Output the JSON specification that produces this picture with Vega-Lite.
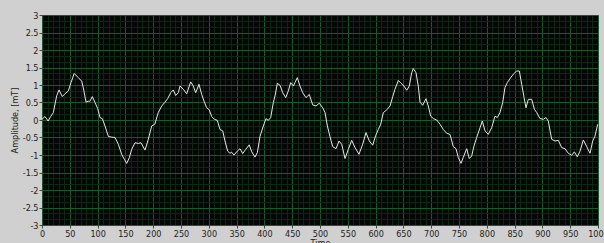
{
  "$schema": "https://vega.github.io/schema/vega-lite/v6.json",
  "width": 556,
  "height": 210,
  "autosize": {"type": "none"},
  "padding": {"left": 42, "top": 15, "right": 6, "bottom": 18},
  "background": "#d0d0d0",
  "config": {
    "view": {"fill": "#040705", "stroke": "#808080", "strokeWidth": 1},
    "font": "Liberation Sans Narrow, DejaVu Sans Condensed, Arial Narrow, sans-serif"
  },
  "data": {
    "values": [
      {"t": 0, "a": 0.02}, {"t": 5.4, "a": 0.1}, {"t": 11, "a": -0.03}, {"t": 15.6, "a": 0.1},
      {"t": 20.4, "a": 0.21}, {"t": 26.4, "a": 0.69}, {"t": 30.6, "a": 0.86}, {"t": 36.5, "a": 0.67},
      {"t": 41.4, "a": 0.75}, {"t": 47.3, "a": 0.83}, {"t": 52.2, "a": 1.07}, {"t": 58, "a": 1.33},
      {"t": 65.3, "a": 1.21}, {"t": 71.4, "a": 1.11}, {"t": 74.3, "a": 0.92}, {"t": 79.1, "a": 0.51},
      {"t": 83.3, "a": 0.54}, {"t": 86, "a": 0.53}, {"t": 90.5, "a": 0.67}, {"t": 95.3, "a": 0.5},
      {"t": 100.1, "a": 0.33}, {"t": 104.3, "a": 0.07}, {"t": 108.5, "a": 0.04}, {"t": 113.3, "a": -0.17},
      {"t": 119.3, "a": -0.47}, {"t": 125.4, "a": -0.49}, {"t": 131.3, "a": -0.5}, {"t": 137.2, "a": -0.69},
      {"t": 143.3, "a": -0.98}, {"t": 148, "a": -1.12}, {"t": 152.3, "a": -1.24}, {"t": 157, "a": -1.08},
      {"t": 161.3, "a": -0.84}, {"t": 167.3, "a": -0.65}, {"t": 173.3, "a": -0.67}, {"t": 178, "a": -0.65},
      {"t": 185.3, "a": -0.86}, {"t": 191.2, "a": -0.55}, {"t": 197.3, "a": -0.17}, {"t": 203, "a": -0.12},
      {"t": 209, "a": 0.21}, {"t": 215.3, "a": 0.4}, {"t": 221.2, "a": 0.51}, {"t": 226, "a": 0.61},
      {"t": 231.5, "a": 0.78}, {"t": 236.2, "a": 0.86}, {"t": 240.4, "a": 0.7}, {"t": 245.2, "a": 0.78},
      {"t": 248.2, "a": 0.97}, {"t": 254.1, "a": 0.88}, {"t": 260.2, "a": 0.75}, {"t": 267.4, "a": 1.09},
      {"t": 272.1, "a": 0.97}, {"t": 276.4, "a": 0.78}, {"t": 282.4, "a": 1.02}, {"t": 287.2, "a": 0.73},
      {"t": 291.4, "a": 0.54}, {"t": 296.2, "a": 0.35}, {"t": 300.9, "a": 0.29}, {"t": 305.2, "a": 0.1},
      {"t": 309.9, "a": 0.02}, {"t": 315.3, "a": -0.01}, {"t": 320.1, "a": -0.27}, {"t": 325, "a": -0.31},
      {"t": 329.1, "a": -0.6}, {"t": 334, "a": -0.89}, {"t": 338.1, "a": -0.95}, {"t": 341, "a": -0.92},
      {"t": 345.3, "a": -1.0}, {"t": 351.3, "a": -0.89}, {"t": 356.1, "a": -0.82}, {"t": 361, "a": -0.96},
      {"t": 366.4, "a": -0.84}, {"t": 372.8, "a": -0.71}, {"t": 377.2, "a": -0.91}, {"t": 383.1, "a": -1.06},
      {"t": 387.3, "a": -0.93}, {"t": 392.1, "a": -0.47}, {"t": 398.1, "a": -0.17}, {"t": 402.9, "a": 0.04},
      {"t": 407, "a": -0.01}, {"t": 411.3, "a": 0.07}, {"t": 416.1, "a": 0.5}, {"t": 419.1, "a": 0.69},
      {"t": 423.3, "a": 1.05}, {"t": 428.1, "a": 0.99}, {"t": 433, "a": 0.78}, {"t": 438.3, "a": 0.64},
      {"t": 443, "a": 0.83}, {"t": 447.3, "a": 1.07}, {"t": 452.1, "a": 0.97}, {"t": 455, "a": 1.07},
      {"t": 459.2, "a": 1.21}, {"t": 464, "a": 0.97}, {"t": 468.9, "a": 0.78}, {"t": 474.8, "a": 0.64},
      {"t": 480.8, "a": 0.73}, {"t": 486.9, "a": 0.43}, {"t": 492.8, "a": 0.4}, {"t": 498.8, "a": 0.48},
      {"t": 504.9, "a": 0.35}, {"t": 509, "a": 0.21}, {"t": 513.3, "a": -0.17}, {"t": 518, "a": -0.48},
      {"t": 522.8, "a": -0.76}, {"t": 528.8, "a": -0.82}, {"t": 534.2, "a": -0.6}, {"t": 539, "a": -0.69},
      {"t": 545, "a": -1.1}, {"t": 550.9, "a": -0.84}, {"t": 557, "a": -0.58}, {"t": 563, "a": -0.79},
      {"t": 570.1, "a": -0.98}, {"t": 576.8, "a": -0.69}, {"t": 582.7, "a": -0.36}, {"t": 588.7, "a": -0.6},
      {"t": 594.8, "a": -0.72}, {"t": 600.2, "a": -0.44}, {"t": 604.9, "a": -0.27}, {"t": 609.2, "a": -0.12},
      {"t": 613.9, "a": 0.21}, {"t": 620, "a": 0.29}, {"t": 625.9, "a": 0.4}, {"t": 630.8, "a": 0.67},
      {"t": 634.9, "a": 0.88}, {"t": 640.9, "a": 1.13}, {"t": 645.7, "a": 1.05}, {"t": 651.1, "a": 0.97},
      {"t": 656, "a": 0.85}, {"t": 660.6, "a": 0.97}, {"t": 664.9, "a": 1.35}, {"t": 667.8, "a": 1.47},
      {"t": 672.7, "a": 1.35}, {"t": 676.8, "a": 0.97}, {"t": 679.9, "a": 0.51}, {"t": 684.7, "a": 0.42},
      {"t": 690.6, "a": 0.61}, {"t": 694.8, "a": 0.4}, {"t": 699.1, "a": 0.11}, {"t": 703.8, "a": 0.04},
      {"t": 709.9, "a": 0.0}, {"t": 715.8, "a": -0.12}, {"t": 721.8, "a": -0.27}, {"t": 727.9, "a": -0.38},
      {"t": 733.8, "a": -0.41}, {"t": 739.7, "a": -0.76}, {"t": 744.6, "a": -0.82}, {"t": 748.7, "a": -1.07},
      {"t": 753.6, "a": -1.24}, {"t": 757.7, "a": -1.07}, {"t": 763.8, "a": -0.82}, {"t": 768.5, "a": -1.1},
      {"t": 772.8, "a": -1.03}, {"t": 777, "a": -0.74}, {"t": 781.8, "a": -0.5}, {"t": 787.8, "a": -0.22},
      {"t": 791.9, "a": -0.03}, {"t": 796.8, "a": -0.31}, {"t": 802.7, "a": -0.41}, {"t": 808.8, "a": -0.22},
      {"t": 814.7, "a": 0.11}, {"t": 818.9, "a": 0.07}, {"t": 823.7, "a": 0.21}, {"t": 828.6, "a": 0.5},
      {"t": 832.7, "a": 0.93}, {"t": 836.9, "a": 1.07}, {"t": 841.7, "a": 1.18}, {"t": 847.7, "a": 1.31},
      {"t": 853.8, "a": 1.4}, {"t": 858.5, "a": 1.4}, {"t": 862.8, "a": 1.02}, {"t": 867, "a": 0.64},
      {"t": 870.5, "a": 0.35}, {"t": 874.7, "a": 0.59}, {"t": 880.8, "a": 0.59}, {"t": 885.5, "a": 0.31},
      {"t": 889.8, "a": 0.21}, {"t": 895.7, "a": 0.04}, {"t": 901.6, "a": 0.02}, {"t": 906.5, "a": 0.07},
      {"t": 910.6, "a": -0.03}, {"t": 916.7, "a": -0.55}, {"t": 922.7, "a": -0.6}, {"t": 928.6, "a": -0.58},
      {"t": 934.7, "a": -0.79}, {"t": 940.6, "a": -0.82}, {"t": 946.6, "a": -0.95}, {"t": 952.7, "a": -1.01},
      {"t": 957.4, "a": -0.91}, {"t": 962.8, "a": -1.05}, {"t": 967.6, "a": -0.89}, {"t": 973.6, "a": -0.57},
      {"t": 979.7, "a": -0.76}, {"t": 985.6, "a": -0.95}, {"t": 990.5, "a": -0.6}, {"t": 994.6, "a": -0.46},
      {"t": 999.5, "a": -0.12}
    ]
  },
  "mark": {"type": "line", "color": "#e6e6e6", "strokeWidth": 1, "clip": true},
  "encoding": {
    "x": {
      "field": "t",
      "type": "quantitative",
      "scale": {"domain": [0, 1000], "nice": false, "zero": false},
      "axis": {
        "title": "Time",
        "titleFontSize": 9,
        "titleFontWeight": "normal",
        "titleColor": "#222222",
        "titlePadding": 0,
        "values": [0,10,20,30,40,50,60,70,80,90,100,110,120,130,140,150,160,170,180,190,200,210,220,230,240,250,260,270,280,290,300,310,320,330,340,350,360,370,380,390,400,410,420,430,440,450,460,470,480,490,500,510,520,530,540,550,560,570,580,590,600,610,620,630,640,650,660,670,680,690,700,710,720,730,740,750,760,770,780,790,800,810,820,830,840,850,860,870,880,890,900,910,920,930,940,950,960,970,980,990,1000],
        "labelExpr": "datum.value % 50 === 0 ? datum.label : ''",
        "format": "d",
        "labelFontSize": 9,
        "labelColor": "#222222",
        "labelPadding": 1,
        "labelFlush": false,
        "labelOverlap": false,
        "domain": false,
        "tickColor": "#444444",
        "tickSize": {"condition": {"test": "datum.value % 50 === 0", "value": 3}, "value": 0},
        "grid": true,
        "gridOpacity": 1,
        "gridWidth": 1,
        "gridColor": {"condition": {"test": "datum.value % 50 === 0", "value": "#185a2e"}, "value": "#0c2815"}
      }
    },
    "y": {
      "field": "a",
      "type": "quantitative",
      "scale": {"domain": [-3, 3], "nice": false, "zero": false},
      "axis": {
        "title": "Amplitude, [mT]",
        "titleFontSize": 9,
        "titleFontWeight": "normal",
        "titleColor": "#222222",
        "titlePadding": 3,
        "values": [-3,-2.8333,-2.6667,-2.5,-2.3333,-2.1667,-2,-1.8333,-1.6667,-1.5,-1.3333,-1.1667,-1,-0.8333,-0.6667,-0.5,-0.3333,-0.1667,0,0.1667,0.3333,0.5,0.6667,0.8333,1,1.1667,1.3333,1.5,1.6667,1.8333,2,2.1667,2.3333,2.5,2.6667,2.8333,3],
        "labelExpr": "abs(datum.value*2 - round(datum.value*2)) < 0.01 ? '' + round(datum.value*2)/2 : ''",
        "labelFontSize": 9,
        "labelColor": "#222222",
        "labelPadding": 1,
        "labelFlush": false,
        "labelOverlap": false,
        "domain": false,
        "tickColor": "#444444",
        "tickSize": {"condition": {"test": "abs(datum.value*2 - round(datum.value*2)) < 0.01", "value": 3}, "value": 0},
        "grid": true,
        "gridOpacity": 1,
        "gridWidth": 1,
        "gridColor": {"condition": {"test": "abs(datum.value*2 - round(datum.value*2)) < 0.01", "value": "#185a2e"}, "value": "#0c2815"}
      }
    }
  }
}
